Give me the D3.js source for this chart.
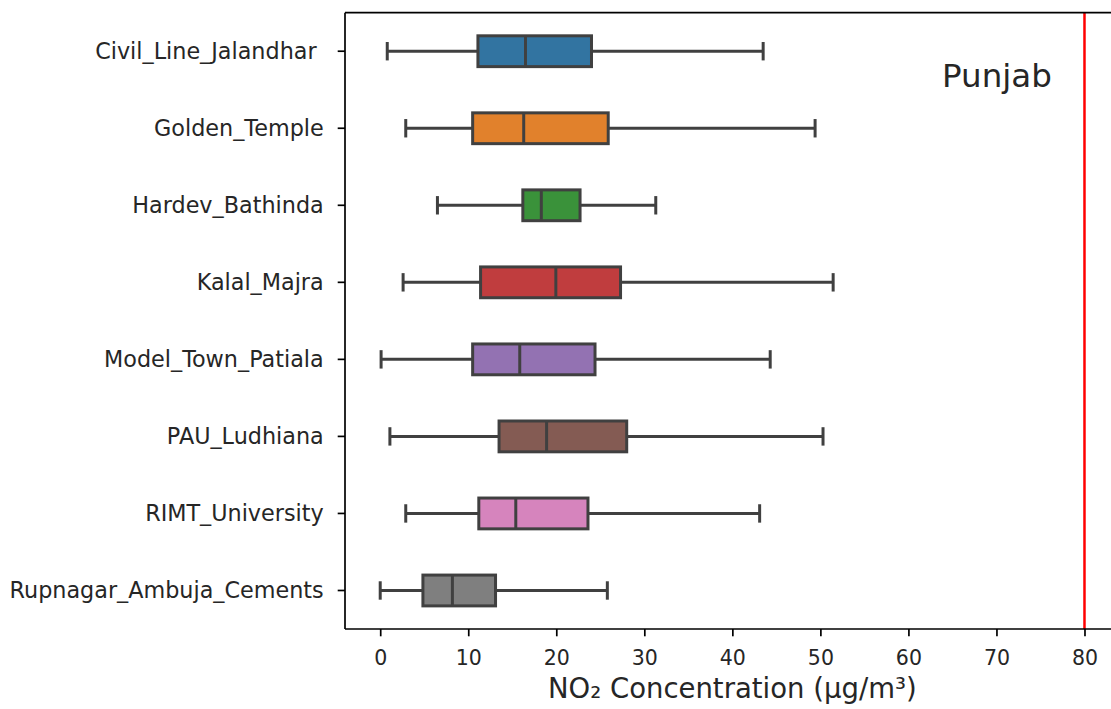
<!DOCTYPE html>
<html>
<head>
<meta charset="utf-8">
<script src="https://cdn.jsdelivr.net/npm/d3@7"></script>
<style>
  html, body { margin: 0; padding: 0; background: #fff; }
  svg { display: block; font-family: "DejaVu Sans", sans-serif; }
</style>
</head>
<body>
<svg id="chart" width="1111" height="709"></svg>
<script>
// ---- data ----
const stations = ["Civil_Line_Jalandhar ", "Golden_Temple", "Hardev_Bathinda", "Kalal_Majra",
                  "Model_Town_Patiala", "PAU_Ludhiana", "RIMT_University", "Rupnagar_Ambuja_Cements"];
const whiskerLow  = [0.8, 2.9, 6.5, 2.6, 0.1, 1.1, 2.9, 0.0];
const q1          = [11.1, 10.5, 16.2, 11.4, 10.5, 13.5, 11.2, 4.85];
const median      = [16.5, 16.3, 18.3, 19.95, 15.85, 18.9, 15.4, 8.2];
const q3          = [24.0, 25.9, 22.7, 27.3, 24.4, 28.0, 23.6, 13.1];
const whiskerHigh = [43.5, 49.4, 31.3, 51.45, 44.3, 50.3, 43.1, 25.8];
const boxColors   = ["#3274a1", "#e1812c", "#3a923a", "#c03d3e", "#9372b2", "#845b53", "#d684bd", "#7f7f7f"];
const xTicks      = [0, 10, 20, 30, 40, 50, 60, 70, 80];
const limitValue  = 80;
const regionLabel = "Punjab";
const xLabel      = "NO\u2082 Concentration (\u00b5g/m\u00b3)";

const rows = stations.map((s, i) => ({
  name: s, lo: whiskerLow[i], q1: q1[i], med: median[i], q3: q3[i], hi: whiskerHigh[i], color: boxColors[i]
}));

const svg = d3.select("#chart");
const pL = 345, pR = 1119.7, pT = 12.7, pB = 629;

const x = d3.scaleLinear().domain([-4, 84]).range([pL, pR]);
const y = d3.scaleBand().domain(stations).range([pT, pB]).padding(0);

const lineCol = "#404040";
const boxH = y.bandwidth() * 0.4;
const capH = boxH * 0.5;

// red limit line
svg.append("line")
  .attr("x1", x(limitValue)).attr("x2", x(limitValue))
  .attr("y1", pT).attr("y2", pB)
  .attr("stroke", "#ff0000").attr("stroke-width", 2.5);

const g = svg.append("g");
const rowG = g.selectAll("g.row").data(rows).join("g").attr("class", "row")
  .attr("transform", d => `translate(0,${y(d.name) + y.bandwidth() / 2})`);

// whiskers
rowG.append("line").attr("x1", d => x(d.lo)).attr("x2", d => x(d.q1))
  .attr("y1", 0).attr("y2", 0).attr("stroke", lineCol).attr("stroke-width", 3);
rowG.append("line").attr("x1", d => x(d.q3)).attr("x2", d => x(d.hi))
  .attr("y1", 0).attr("y2", 0).attr("stroke", lineCol).attr("stroke-width", 3);
// caps
rowG.append("line").attr("x1", d => x(d.lo)).attr("x2", d => x(d.lo))
  .attr("y1", -capH / 2).attr("y2", capH / 2)
  .attr("stroke", lineCol).attr("stroke-width", 3).attr("stroke-linecap", "square");
rowG.append("line").attr("x1", d => x(d.hi)).attr("x2", d => x(d.hi))
  .attr("y1", -capH / 2).attr("y2", capH / 2)
  .attr("stroke", lineCol).attr("stroke-width", 3).attr("stroke-linecap", "square");
// boxes
rowG.append("rect")
  .attr("x", d => x(d.q1)).attr("width", d => x(d.q3) - x(d.q1))
  .attr("y", -boxH / 2).attr("height", boxH)
  .attr("fill", d => d.color).attr("stroke", lineCol).attr("stroke-width", 3);
// medians
rowG.append("line").attr("x1", d => x(d.med)).attr("x2", d => x(d.med))
  .attr("y1", -boxH / 2).attr("y2", boxH / 2)
  .attr("stroke", lineCol).attr("stroke-width", 3);

// spines
svg.append("line").attr("x1", pL).attr("x2", pL).attr("y1", pT).attr("y2", pB)
  .attr("stroke", "#000").attr("stroke-width", 1.7);
svg.append("line").attr("x1", pL).attr("x2", pR).attr("y1", pB).attr("y2", pB)
  .attr("stroke", "#000").attr("stroke-width", 1.7);
svg.append("line").attr("x1", pL).attr("x2", pR).attr("y1", pT).attr("y2", pT)
  .attr("stroke", "#000").attr("stroke-width", 1.7);
svg.append("line").attr("x1", pR).attr("x2", pR).attr("y1", pT).attr("y2", pB)
  .attr("stroke", "#000").attr("stroke-width", 1.7);

// x axis
const xAxis = d3.axisBottom(x).tickValues(xTicks).tickSize(7.3).tickPadding(5).tickFormat(d3.format("d"));
const xg = svg.append("g").attr("transform", `translate(0,${pB})`).call(xAxis);
xg.select(".domain").remove();
xg.selectAll(".tick line").attr("stroke", "#000").attr("stroke-width", 1.7);
xg.selectAll(".tick text").attr("fill", "#262626").style("font-size", "20.5px")
  .style("font-family", "DejaVu Sans").attr("dy", null).attr("y", 36);

// y axis
const yAxis = d3.axisLeft(y).tickSize(7.3).tickPadding(14);
const yg = svg.append("g").attr("transform", `translate(${pL},0)`).call(yAxis);
yg.select(".domain").remove();
yg.selectAll(".tick line").attr("stroke", "#000").attr("stroke-width", 1.7);
yg.selectAll(".tick text").attr("fill", "#262626").style("font-size", "22.3px")
  .style("font-family", "DejaVu Sans").style("white-space", "pre")
  .attr("dy", null).attr("y", 8);

// x label
svg.append("text").attr("x", (pL + pR) / 2).attr("y", 698)
  .attr("text-anchor", "middle").attr("fill", "#262626")
  .style("font-size", "27.5px").text(xLabel);

// region label
svg.append("text").attr("x", 942).attr("y", 87)
  .attr("fill", "#262626").style("font-size", "32.5px").text(regionLabel);
</script>
</body>
</html>
